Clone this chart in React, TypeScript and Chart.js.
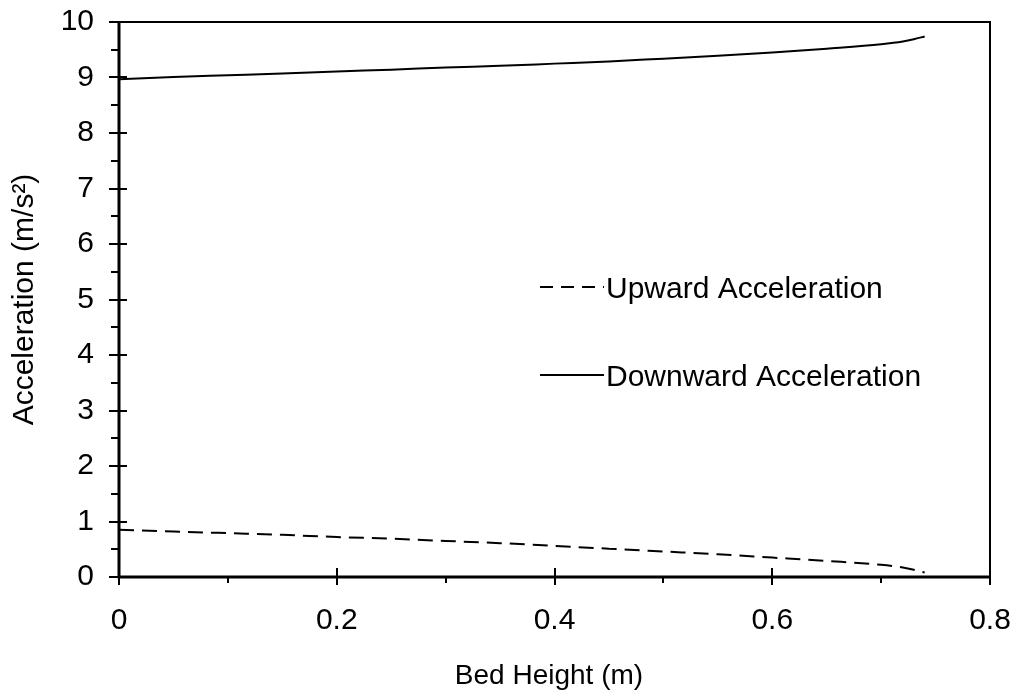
import React, { useEffect, useRef } from "react";
import { Chart, registerables } from "chart.js";

Chart.register(...registerables);

// ---- Data ----
const bedHeight = [0, 0.05, 0.1, 0.15, 0.2, 0.25, 0.3, 0.35, 0.4, 0.45, 0.5, 0.55, 0.6, 0.65, 0.7, 0.72, 0.73, 0.74];
const upwardAcceleration = [0.85, 0.82, 0.79, 0.76, 0.72, 0.69, 0.65, 0.61, 0.56, 0.51, 0.46, 0.41, 0.35, 0.29, 0.22, 0.17, 0.13, 0.08];
const downwardAcceleration = [8.97, 9.01, 9.04, 9.07, 9.11, 9.14, 9.18, 9.21, 9.25, 9.29, 9.34, 9.39, 9.45, 9.52, 9.6, 9.65, 9.69, 9.74];

const seriesNames = ["Upward Acceleration", "Downward Acceleration"];
const xTitle = "Bed Height (m)";
const yTitle = "Acceleration (m/s²)";
const xMin = 0;
const xMax = 0.8;
const xStep = 0.2;
const xMinorStep = 0.1;
const yMin = 0;
const yMax = 10;
const yStep = 1;
const yMinorStep = 0.5;

const FONT = '"Liberation Sans", Arial, Helvetica, sans-serif';

const overlayPlugin = {
  id: "overlay",
  afterDraw(chart: any) {
    const { ctx, chartArea } = chart;
    const { left, right, top, bottom } = chartArea;
    const xs = chart.scales.x;
    const ys = chart.scales.y;
    ctx.save();
    ctx.strokeStyle = "#000";
    ctx.fillStyle = "#000";

    // frame (top/right)
    ctx.lineWidth = 2;
    ctx.beginPath();
    ctx.moveTo(left, top);
    ctx.lineTo(right, top);
    ctx.lineTo(right, bottom);
    ctx.stroke();

    // axes (left/bottom)
    ctx.lineWidth = 3;
    ctx.beginPath();
    ctx.moveTo(left, top);
    ctx.lineTo(left, bottom);
    ctx.lineTo(right + 1, bottom);
    ctx.stroke();

    // y ticks
    ctx.lineWidth = 2;
    const nY = Math.round((yMax - yMin) / yMinorStep);
    for (let i = 0; i <= nY; i++) {
      const v = yMin + i * yMinorStep;
      const py = Math.round(ys.getPixelForValue(v));
      const major = Math.abs(v / yStep - Math.round(v / yStep)) < 1e-6;
      ctx.beginPath();
      if (major) {
        ctx.moveTo(left - 10, py);
        ctx.lineTo(left + 8, py);
      } else {
        ctx.moveTo(left - 8, py);
        ctx.lineTo(left, py);
      }
      ctx.stroke();
    }

    // x ticks
    const nX = Math.round((xMax - xMin) / xMinorStep);
    for (let i = 0; i <= nX; i++) {
      const v = xMin + i * xMinorStep;
      const px = Math.round(xs.getPixelForValue(v));
      const major = Math.abs(v / xStep - Math.round(v / xStep)) < 1e-6;
      ctx.beginPath();
      if (major) {
        ctx.moveTo(px, bottom - 9);
        ctx.lineTo(px, bottom + 8);
      } else {
        ctx.moveTo(px, bottom);
        ctx.lineTo(px, bottom + 6);
      }
      ctx.stroke();
    }

    // legend (inside plot)
    ctx.font = `30px ${FONT}`;
    ctx.textAlign = "left";
    ctx.textBaseline = "alphabetic";
    const legendItems = [
      { name: seriesNames[0], dash: [13, 8], y: 287 },
      { name: seriesNames[1], dash: [], y: 375 },
    ];
    for (const it of legendItems) {
      ctx.lineWidth = 2;
      ctx.setLineDash(it.dash);
      ctx.beginPath();
      ctx.moveTo(540, it.y);
      ctx.lineTo(604, it.y);
      ctx.stroke();
      ctx.setLineDash([]);
      ctx.fillText(it.name, 606, it.y + 11);
    }

    // axis titles
    ctx.font = `28px ${FONT}`;
    ctx.textAlign = "center";
    ctx.fillText(xTitle, 549, 684);

    ctx.font = `30px ${FONT}`;
    ctx.translate(33, (top + bottom) / 2);
    ctx.rotate(-Math.PI / 2);
    ctx.fillText(yTitle, 0, 0);
    ctx.restore();
  },
};

const zeroPad = (s: any) => {
  s.paddingTop = 0;
  s.paddingBottom = 0;
  s.paddingLeft = 0;
  s.paddingRight = 0;
};

export default function App() {
  const canvasRef = useRef<HTMLCanvasElement | null>(null);

  useEffect(() => {
    document.body.style.margin = "0";
    const canvas = canvasRef.current;
    if (!canvas) return;
    const chart = new Chart(canvas, {
      type: "scatter",
      data: {
        datasets: [
          {
            label: seriesNames[0],
            data: bedHeight.map((x, i) => ({ x, y: upwardAcceleration[i] })),
            showLine: true,
            borderColor: "#000",
            borderWidth: 2,
            borderDash: [15, 8],
            pointRadius: 0,
            cubicInterpolationMode: "monotone",
          },
          {
            label: seriesNames[1],
            data: bedHeight.map((x, i) => ({ x, y: downwardAcceleration[i] })),
            showLine: true,
            borderColor: "#000",
            borderWidth: 2,
            pointRadius: 0,
            cubicInterpolationMode: "monotone",
          },
        ],
      },
      options: {
        animation: false,
        responsive: false,
        devicePixelRatio: 1,
        layout: { padding: { left: 0, top: 22, right: 26, bottom: 0 } },
        plugins: {
          legend: { display: false },
          tooltip: { enabled: false },
        },
        scales: {
          x: {
            type: "linear",
            min: xMin,
            max: xMax,
            grid: { display: false, drawTicks: false },
            border: { display: false },
            ticks: {
              stepSize: xStep,
              padding: 26,
              color: "#000",
              font: { family: FONT, size: 30 },
              maxRotation: 0,
              callback: (v: any) => String(Math.round(Number(v) * 10) / 10),
            },
            afterFit: (s: any) => {
              s.height = 114;
              zeroPad(s);
            },
          },
          y: {
            type: "linear",
            min: yMin,
            max: yMax,
            grid: { display: false, drawTicks: false },
            border: { display: false },
            ticks: {
              stepSize: yStep,
              padding: 25,
              color: "#000",
              font: { family: FONT, size: 30 },
              callback: (v: any) => String(Math.round(Number(v))),
            },
            afterFit: (s: any) => {
              s.width = 119;
              zeroPad(s);
            },
          },
        },
      },
      plugins: [overlayPlugin],
    });
    return () => chart.destroy();
  }, []);

  return (
    <div style={{ width: 1016, height: 691, background: "#fff" }}>
      <canvas ref={canvasRef} width={1016} height={691} style={{ display: "block" }} />
    </div>
  );
}
